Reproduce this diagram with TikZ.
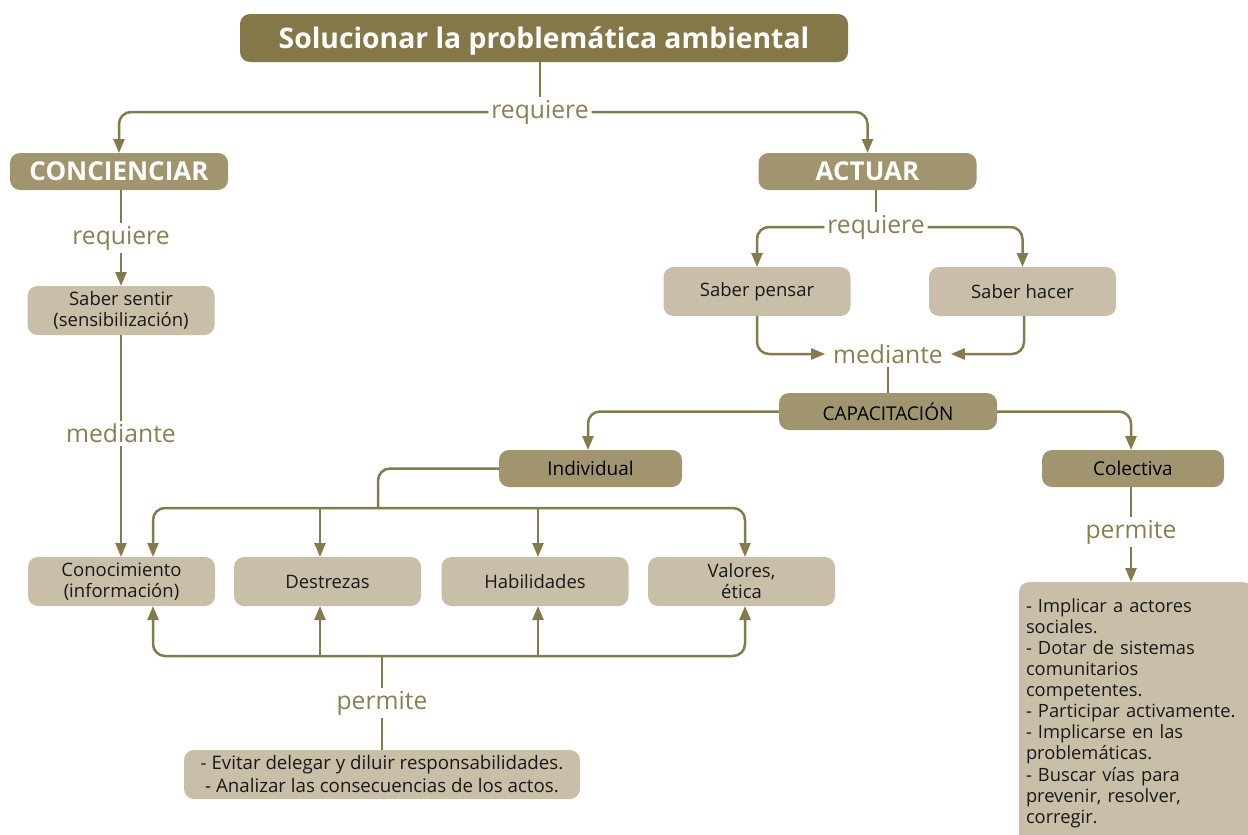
\documentclass[tikz,border=0pt]{standalone}
\usepackage{fontspec}
\setmainfont{Open Sans}
\usetikzlibrary{arrows.meta}
\definecolor{olivedark}{HTML}{847848}
\definecolor{olivemid}{HTML}{A0956F}
\definecolor{olivelight}{HTML}{C9BFA8}
\definecolor{oliveline}{HTML}{857A4B}
\definecolor{olivetext}{HTML}{8A7F52}
\begin{document}
\begin{tikzpicture}[x=1pt,y=-1pt,
  every node/.style={inner sep=0pt, outer sep=0pt},
  titlebox/.style={fill=olivedark, rounded corners=10pt, minimum width=608pt, minimum height=48pt,
    text=white, text depth=0pt, font=\fontsize{28.3}{30}\selectfont\bfseries},
  headbox/.style={fill=olivemid, rounded corners=10pt, minimum width=218pt, minimum height=37pt,
    text=white, text depth=0pt, font=\fontsize{26}{28}\selectfont\bfseries},
  midbox/.style={fill=olivemid, rounded corners=10pt, minimum height=37pt,
    text=black, font=\fontsize{19}{21}\selectfont},
  lightbox/.style={fill=olivelight, rounded corners=10pt, minimum width=187pt, minimum height=49pt,
    text=black!90, font=\fontsize{18.5}{21}\selectfont, align=center},
  verb/.style={text=olivetext, font=\fontsize{24.7}{26}\selectfont, inner sep=3pt},
  link/.style={draw=oliveline, line width=2.5pt, rounded corners=12pt},
  arr/.style={link, -{Triangle[width=11pt,length=14pt]}}
]
\useasboundingbox (0,0) rectangle (1248,835);

% top level
\node[titlebox] (sol) at (544,38) {Solucionar la problemática ambiental};
\node[verb] (req1) at (540,112) {requiere};
\node[headbox] (conc) at (119,171.5) {CONCIENCIAR};
\node[headbox] (act) at (867.5,171.5) {ACTUAR};

\draw[link] (sol.south -| req1) -- (req1);
\draw[arr] (req1.west) -| (conc.north);
\draw[arr] (req1.east) -| (act.north);

% left branch
\node[verb] (req2) at (121,238) {requiere};
\node[lightbox] (sent) at (121,310.5) {Saber sentir\\(sensibilización)};
\node[verb] (med1) at (121,433) {mediante};
\draw[link] (conc.south -| req2) -- (req2);
\draw[arr] (req2) -- (sent);
\draw[link] (sent) -- (med1);

% right branch
\node[verb] (req3) at (876,227) {requiere};
\node[lightbox] (pens) at (757,291.5) {Saber pensar};
\node[lightbox] (hac) at (1022.5,291.5) {Saber hacer};
\draw[link] (act.south -| req3) -- (req3);
\draw[arr] (req3.west) -| (pens.north);
\draw[arr] (req3.east) -| (hac.north);

\node[verb, inner xsep=8pt] (med2) at (888,354) {mediante};
\draw[arr] (pens.south) |- (med2.west);
\draw[arr] ([xshift=1.5pt]hac.south) |- (med2.east);

\node[midbox, minimum width=218pt] (cap) at (888,411.5) {CAPACITACIÓN};
\draw[link] (med2) -- (cap);

\node[midbox, minimum width=183pt] (ind) at (590.5,468.5) {Individual};
\node[midbox, minimum width=182pt] (col) at (1133,468.5) {Colectiva};
\draw[arr] (cap.west) -| ([xshift=-2.5pt]ind.north);
\draw[arr] (cap.east) -| ([xshift=-2pt]col.north);

% individual capacities
\node[lightbox] (con) at (121.5,581.5) {Conocimiento\\(información)};
\node[lightbox] (des) at (327.5,581.5) {Destrezas};
\node[lightbox] (hab) at (535,581.5) {Habilidades};
\node[lightbox] (val) at (741.5,581.5) {Valores,\\ética};

\draw[arr] (med1) -- (con.north -| med1);

% attachment points on the capacity boxes
\coordinate (conT) at ([xshift=31.5pt]con.north);
\coordinate (desT) at ([xshift=-7.5pt]des.north);
\coordinate (habT) at ([xshift=3pt]hab.north);
\coordinate (valT) at ([xshift=3.5pt]val.north);
\coordinate (conB) at ([xshift=31.5pt]con.south);
\coordinate (desB) at ([xshift=-7.5pt]des.south);
\coordinate (habB) at ([xshift=3pt]hab.south);
\coordinate (valB) at ([xshift=3.5pt]val.south);

\coordinate (busA) at (378,508);
\draw[link] (ind.west) -| (busA);
\draw[arr] (busA) -| (conT);
\draw[arr] (busA) -| (valT);
\draw[arr] (busA -| desT) -- (desT);
\draw[arr] (busA -| habT) -- (habT);

\coordinate (busB) at (382,656);
\draw[arr] (busB) -| (conB);
\draw[arr] (busB) -| (valB);
\draw[arr] (busB -| desB) -- (desB);
\draw[arr] (busB -| habB) -- (habB);

\node[verb] (perm1) at (382,703) {permite};
\node[lightbox, minimum width=396pt, font=\fontsize{18.7}{23}\selectfont] (evit) at (382,774.5)
  {- Evitar delegar y diluir responsabilidades.\\- Analizar las consecuencias de los actos.};
\draw[link] (busB) -- (perm1);
\draw[link] (perm1) -- (evit.north -| perm1);

% collective capacities
\node[verb] (perm2) at (1131,532) {permite};
\node[lightbox, anchor=north west, minimum width=227pt, minimum height=262pt, align=left,
  text width=220pt, inner xsep=7pt, inner ysep=8pt, font=\fontsize{18.3}{21.1}\selectfont]
  (acc) at (1019,582)
  {- Implicar a actores\\sociales.\\- Dotar de sistemas\\comunitarios\\competentes.\\- Participar activamente.\\- Implicarse en las\\problemáticas.\\- Buscar vías para\\prevenir, resolver,\\corregir.};
\draw[link] (col.south -| perm2) -- (perm2);
\draw[arr] (perm2) -- (acc.north -| perm2);
\end{tikzpicture}
\end{document}
